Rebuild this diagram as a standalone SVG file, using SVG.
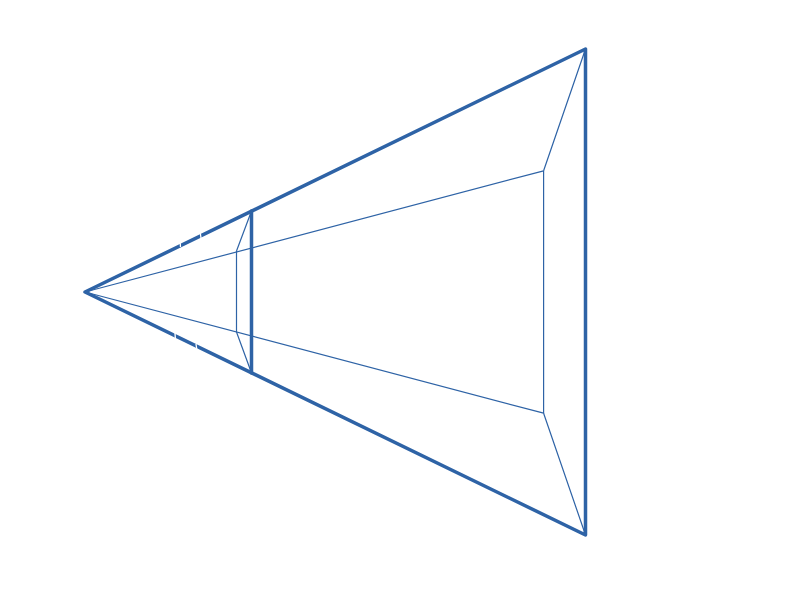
<svg xmlns="http://www.w3.org/2000/svg" width="794" height="600" viewBox="0 0 794 600">
<style>
.thick{fill:none;stroke:#2e63a6;stroke-width:3.5;stroke-linejoin:round;stroke-linecap:round}
.thin{fill:none;stroke:#2e63a6;stroke-width:1.2;stroke-linejoin:round}
.gap{stroke:#fff;stroke-width:1.3;fill:none}
</style>
<rect width="794" height="600" fill="#fff"/>
<g id="connectors">
<path class="thin" d="M85 292L543.600 170.800V413.200L85 292"/>
<path class="thin" d="M236.500 251V332"/>
<path class="thin" d="M543.600 170.800L585.500 49M543.600 413.200L585.500 535"/>
<path class="thin" d="M236.500 251L251.500 211M236.500 332L251.500 373"/>
<path class="thick" d="M85 292L585.500 49V535Z"/>
<path class="thick" d="M251.500 211V373"/>
<path class="gap" d="M180 240L180.500 247M200 231L201 238M175 333L175.500 341M196 344L197 351"/>
</g>
</svg>
